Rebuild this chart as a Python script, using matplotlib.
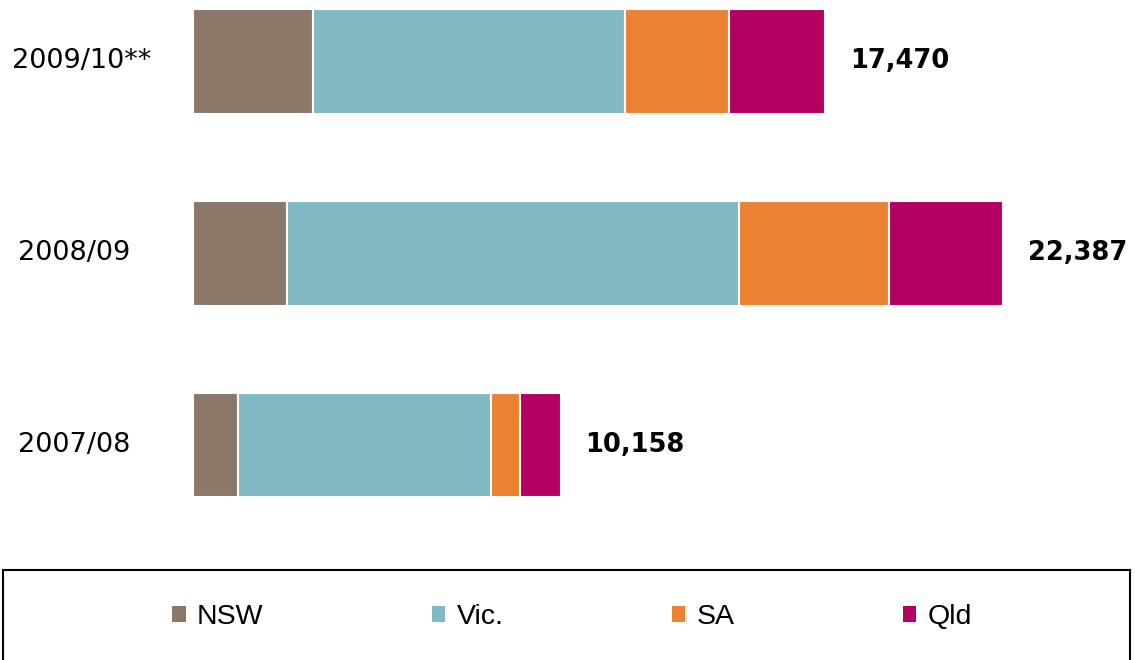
import matplotlib
matplotlib.use("Agg")
import matplotlib.pyplot as plt
import matplotlib.transforms as mtransforms
from matplotlib.patches import Rectangle, Patch
import numpy as np

categories = ["2007/08", "2008/09", "2009/10**"]
states = ["NSW", "Vic.", "SA", "Qld"]
nsw = [1235, 2598, 3317]
vic = [6995, 12493, 8623]
sa = [820, 4141, 2861]
qld = [1108, 3155, 2669]
totals = [10158, 22387, 17470]
total_labels = ["10,158", "22,387", "17,470"]
colors = ["#8C7868", "#80B9C1", "#EB8233", "#B50063"]

fig = plt.figure(figsize=(11.35, 6.6), dpi=100)
ax = fig.add_axes([193/1135, 120/660, 942/1135, 540/660])
y = np.arange(len(categories))
left = np.zeros(len(categories))
for vals, col, name in zip([nsw, vic, sa, qld], colors, states):
    ax.barh(y, vals, left=left, height=0.545, color=col, edgecolor="white",
            linewidth=1.5, label=name)
    left += np.array(vals)

for yi, tot, lab in zip(y, totals, total_labels):
    ax.annotate(lab, xy=(tot, yi), xytext=(18, 0), textcoords="offset points",
                ha="left", va="center", fontsize=18.5, fontweight="bold",
                family="DejaVu Sans", color="black")

ax.set_xlim(0, 942 / 0.03618)
ax.set_ylim(-0.4954, 2.3207)
ax.axis("off")

blend = mtransforms.blended_transform_factory(fig.transFigure, ax.transData)
label_x = [18, 18, 12]
for yi, cat, lx in zip(y, categories, label_x):
    ax.text(lx / 1135, yi, cat, transform=blend,
            ha="left", va="center", fontsize=19.5, family="DejaVu Sans", color="black")

# legend frame
fig.patches.append(Rectangle((3/1135, -0.05), 1127/1135, (660-570)/660 + 0.05,
                             transform=fig.transFigure, fill=False,
                             edgecolor="black", linewidth=1.5))
handles = [Patch(facecolor=c, edgecolor="none") for c in colors]
fig.legend(handles, states, loc="center", bbox_to_anchor=(572/1135, 1 - 617/660),
           ncol=4, frameon=False, handlelength=0.48, handleheight=0.5,
           handletextpad=0.4, columnspacing=5.9,
           prop={"family": "Liberation Sans", "size": 20.5})

fig.savefig("out.png", dpi=100)
